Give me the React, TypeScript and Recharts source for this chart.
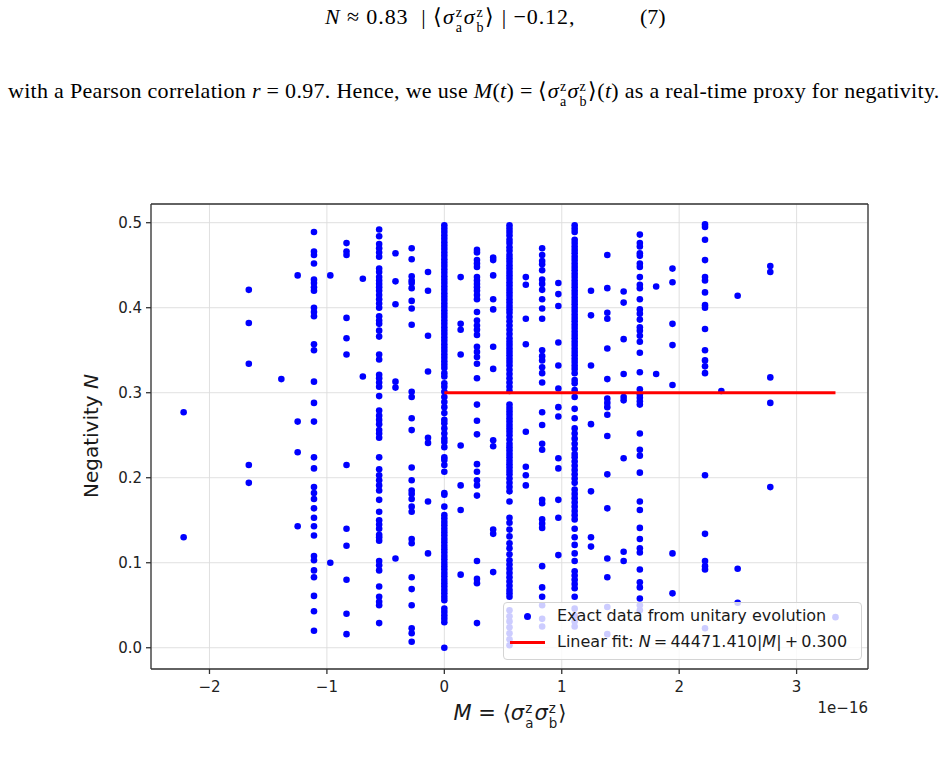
import {
  CartesianGrid,
  Legend,
  ReferenceLine,
  Scatter,
  ScatterChart,
  XAxis,
  YAxis,
} from "recharts";

// M = <sz_a sz_b>, in units of 1e-16; columns sit on multiples of ~1.388e-17
const M_COLUMNS = [
  -2.22, -1.665, -1.388, -1.249, -1.11, -0.971, -0.833, -0.694, -0.555, -0.416, -0.278, -0.139, 0,
  0.139, 0.278, 0.416, 0.555, 0.694, 0.833, 0.971, 1.11, 1.249, 1.388, 1.527, 1.665, 1.804, 1.943,
  2.22, 2.359, 2.498, 2.776, 3.331,
];

// negativity values (same order as M_COLUMNS)
const N_BY_COLUMN = [
  [0.277, 0.13],
  [0.421, 0.382, 0.334, 0.215, 0.194],
  [0.316],
  [0.438, 0.266, 0.23, 0.143],
  [0.489, 0.466, 0.462, 0.452, 0.433, 0.429, 0.424, 0.42, 0.4, 0.395, 0.39, 0.357, 0.35, 0.313, 0.288, 0.266, 0.224, 0.211, 0.189, 0.182, 0.175, 0.164, 0.153, 0.143, 0.132, 0.108, 0.103, 0.091, 0.083, 0.061, 0.043, 0.02],
  [0.438, 0.1],
  [0.476, 0.466, 0.462, 0.388, 0.364, 0.345, 0.215, 0.14, 0.12, 0.08, 0.04, 0.016],
  [0.434, 0.319],
  [0.492, 0.484, 0.475, 0.47, 0.465, 0.46, 0.446, 0.442, 0.436, 0.432, 0.428, 0.424, 0.42, 0.415, 0.41, 0.405, 0.4, 0.39, 0.385, 0.381, 0.373, 0.366, 0.345, 0.339, 0.321, 0.317, 0.312, 0.307, 0.296, 0.279, 0.273, 0.268, 0.263, 0.256, 0.252, 0.247, 0.224, 0.21, 0.203, 0.197, 0.191, 0.185, 0.174, 0.16, 0.15, 0.145, 0.14, 0.133, 0.13, 0.126, 0.102, 0.097, 0.091, 0.072, 0.06, 0.054, 0.05, 0.029],
  [0.464, 0.431, 0.404, 0.313, 0.306, 0.105],
  [0.47, 0.457, 0.437, 0.432, 0.429, 0.423, 0.408, 0.399, 0.38, 0.301, 0.295, 0.27, 0.256, 0.212, 0.197, 0.185, 0.181, 0.175, 0.166, 0.16, 0.128, 0.123, 0.083, 0.069, 0.05, 0.023, 0.017, 0.007],
  [0.442, 0.42, 0.367, 0.325, 0.247, 0.241, 0.172, 0.111],
  [0.497, 0.493, 0.489, 0.485, 0.481, 0.477, 0.473, 0.469, 0.465, 0.461, 0.457, 0.453, 0.449, 0.445, 0.441, 0.437, 0.433, 0.429, 0.425, 0.421, 0.417, 0.413, 0.409, 0.405, 0.401, 0.397, 0.393, 0.389, 0.385, 0.381, 0.377, 0.373, 0.369, 0.365, 0.361, 0.357, 0.353, 0.349, 0.345, 0.341, 0.337, 0.333, 0.329, 0.323, 0.319, 0.311, 0.307, 0.301, 0.295, 0.289, 0.283, 0.276, 0.268, 0.264, 0.258, 0.252, 0.246, 0.242, 0.236, 0.224, 0.221, 0.215, 0.207, 0.182, 0.18, 0.166, 0.156, 0.152, 0.148, 0.144, 0.14, 0.136, 0.132, 0.128, 0.124, 0.12, 0.116, 0.112, 0.108, 0.104, 0.1, 0.096, 0.092, 0.088, 0.084, 0.08, 0.076, 0.072, 0.068, 0.064, 0.06, 0.056, 0.046, 0.042, 0.038, 0.034, 0.03, 0.0],
  [0.436, 0.381, 0.374, 0.345, 0.238, 0.191, 0.162, 0.086],
  [0.468, 0.465, 0.456, 0.452, 0.448, 0.436, 0.432, 0.428, 0.424, 0.42, 0.415, 0.41, 0.395, 0.385, 0.379, 0.374, 0.368, 0.354, 0.348, 0.342, 0.334, 0.317, 0.286, 0.267, 0.251, 0.216, 0.207, 0.197, 0.191, 0.179, 0.102, 0.081, 0.076, 0.029],
  [0.459, 0.456, 0.438, 0.41, 0.398, 0.354, 0.328, 0.244, 0.237, 0.139, 0.134, 0.089],
  [0.497, 0.493, 0.489, 0.485, 0.48, 0.476, 0.471, 0.467, 0.462, 0.458, 0.454, 0.45, 0.446, 0.442, 0.438, 0.434, 0.43, 0.426, 0.422, 0.418, 0.414, 0.41, 0.406, 0.402, 0.398, 0.394, 0.389, 0.384, 0.379, 0.374, 0.369, 0.364, 0.36, 0.356, 0.352, 0.348, 0.344, 0.34, 0.336, 0.332, 0.327, 0.322, 0.317, 0.312, 0.307, 0.302, 0.286, 0.282, 0.278, 0.274, 0.27, 0.266, 0.262, 0.258, 0.254, 0.25, 0.245, 0.24, 0.236, 0.232, 0.228, 0.224, 0.22, 0.216, 0.212, 0.208, 0.204, 0.199, 0.194, 0.189, 0.184, 0.172, 0.153, 0.147, 0.139, 0.131, 0.123, 0.117, 0.11, 0.103, 0.098, 0.093, 0.088, 0.083, 0.078, 0.073, 0.068, 0.064, 0.06, 0.044, 0.037, 0.031, 0.024, 0.017, 0.01, 0.003],
  [0.436, 0.427, 0.387, 0.357, 0.254, 0.213, 0.203, 0.191],
  [0.47, 0.462, 0.455, 0.451, 0.444, 0.433, 0.428, 0.421, 0.41, 0.399, 0.387, 0.35, 0.343, 0.338, 0.33, 0.323, 0.312, 0.277, 0.262, 0.24, 0.233, 0.174, 0.17, 0.151, 0.146, 0.141, 0.096, 0.071, 0.06, 0.05, 0.034, 0.025],
  [0.429, 0.416, 0.402, 0.359, 0.332, 0.305, 0.283, 0.272, 0.223, 0.211, 0.174, 0.153, 0.109],
  [0.497, 0.493, 0.489, 0.48, 0.476, 0.472, 0.468, 0.464, 0.46, 0.456, 0.452, 0.448, 0.444, 0.44, 0.436, 0.432, 0.428, 0.424, 0.42, 0.416, 0.412, 0.408, 0.404, 0.4, 0.396, 0.392, 0.388, 0.384, 0.38, 0.376, 0.372, 0.368, 0.364, 0.36, 0.356, 0.352, 0.348, 0.344, 0.34, 0.336, 0.332, 0.328, 0.323, 0.315, 0.311, 0.303, 0.295, 0.281, 0.27, 0.258, 0.252, 0.246, 0.24, 0.234, 0.228, 0.224, 0.219, 0.214, 0.209, 0.204, 0.199, 0.194, 0.186, 0.181, 0.176, 0.171, 0.166, 0.161, 0.156, 0.151, 0.14, 0.13, 0.121, 0.111, 0.102, 0.09, 0.085, 0.08, 0.075, 0.07, 0.06, 0.046, 0.038, 0.031, 0.025],
  [0.42, 0.391, 0.332, 0.263, 0.184, 0.13, 0.119],
  [0.462, 0.423, 0.394, 0.387, 0.352, 0.316, 0.293, 0.288, 0.283, 0.274, 0.249, 0.204, 0.164, 0.105, 0.083, 0.048, 0.016],
  [0.419, 0.406, 0.363, 0.322, 0.295, 0.291, 0.223, 0.113, 0.102],
  [0.486, 0.476, 0.472, 0.464, 0.461, 0.452, 0.448, 0.436, 0.427, 0.423, 0.41, 0.398, 0.393, 0.386, 0.377, 0.373, 0.367, 0.36, 0.347, 0.324, 0.304, 0.298, 0.294, 0.29, 0.286, 0.252, 0.233, 0.226, 0.206, 0.172, 0.162, 0.141, 0.128, 0.117, 0.112, 0.092, 0.077, 0.071, 0.058, 0.05, 0.044],
  [0.425, 0.322],
  [0.446, 0.43, 0.381, 0.356, 0.309, 0.111, 0.064],
  [0.498, 0.495, 0.48, 0.456, 0.436, 0.432, 0.418, 0.403, 0.4, 0.375, 0.35, 0.338, 0.331, 0.323, 0.203, 0.134, 0.102, 0.096, 0.092, 0.023],
  [0.302],
  [0.414, 0.093, 0.053],
  [0.449, 0.442, 0.318, 0.288, 0.189],
  [0.036],
];

const FIT_SLOPE = 44471.41;
const FIT_INTERCEPT = 0.3;
const FIT_M = [0, 3.331];

const X_TICKS = [-2, -1, 0, 1, 2, 3];
const Y_TICKS = [0, 0.1, 0.2, 0.3, 0.4, 0.5];
const X_DOMAIN = [-2.498, 3.608];
const Y_DOMAIN = [-0.025, 0.522];

const points = M_COLUMNS.flatMap((m, i) => N_BY_COLUMN[i].map((n) => ({ m, n })));
const fitLine = FIT_M.map((m) => ({ m, n: FIT_SLOPE * Math.abs(m) * 1e-16 + FIT_INTERCEPT }));

const AXIS = "#333";
const SANS = "'DejaVu Sans', sans-serif";
const SERIF = "'Liberation Serif', 'Times New Roman', serif";

function SupSub({ sup, sub }: { sup: string; sub: string }) {
  return (
    <span
      style={{
        display: "inline-flex",
        flexDirection: "column",
        fontSize: "0.64em",
        lineHeight: 1.1,
        verticalAlign: "0.5em",
        marginLeft: 1,
        marginRight: 1,
      }}
    >
      <span>{sup}</span>
      <span>{sub}</span>
    </span>
  );
}

function Corr() {
  const s = { fontStyle: "italic" as const };
  return (
    <>
      ⟨<span style={s}>σ</span>
      <SupSub sup="z" sub="a" />
      <span style={s}>σ</span>
      <SupSub sup="z" sub="b" />⟩
    </>
  );
}

function LegendBox() {
  return (
    <div
      style={{
        position: "relative",
        width: 359,
        height: 58,
        boxSizing: "border-box",
        border: "1px solid #d4d4d4",
        borderRadius: 4,
        background: "rgba(255,255,255,0.8)",
        fontFamily: SANS,
        fontSize: 16,
        color: "#1a1a1a",
        whiteSpace: "nowrap",
      }}
    >
      <div
        style={{
          position: "absolute",
          left: 20,
          top: 10,
          width: 7,
          height: 7,
          borderRadius: "50%",
          background: "#0000ff",
        }}
      />
      <div style={{ position: "absolute", left: 53, top: 3, lineHeight: "20px" }}>
        Exact data from unitary evolution
      </div>
      <div
        style={{ position: "absolute", left: 6, top: 38, width: 35, height: 3, background: "#ff0000" }}
      />
      <div style={{ position: "absolute", left: 53, top: 29, lineHeight: "20px" }}>
        Linear fit: <i>N</i>&#8201;=&#8201;44471.410|<i>M</i>|&#8201;+&#8201;0.300
      </div>
    </div>
  );
}

export default function App() {
  return (
    <div style={{ position: "absolute", left: 0, top: 0, width: 947, height: 770, background: "#fff" }}>
      <div
        style={{
          position: "absolute",
          left: 325,
          top: 4,
          fontFamily: SERIF,
          fontSize: 22,
          lineHeight: "26px",
          letterSpacing: 0.9,
          whiteSpace: "nowrap",
        }}
      >
        <i>N</i> ≈ 0.83 &nbsp;| <Corr /> | −0.12,
      </div>
      <div style={{ position: "absolute", left: 640, top: 4, fontFamily: SERIF, fontSize: 22, lineHeight: "26px" }}>
        (7)
      </div>
      <div
        style={{
          position: "absolute",
          left: 8,
          top: 78,
          fontFamily: SERIF,
          fontSize: 22,
          lineHeight: "26px",
          letterSpacing: 0.3,
          whiteSpace: "nowrap",
        }}
      >
        with a Pearson correlation <i>r</i> = 0.97. Hence, we use <i>M</i>(<i>t</i>) = <Corr />(<i>t</i>) as a
        real-time proxy for negativity.
      </div>

      <ScatterChart width={947} height={770} margin={{ top: 204, right: 79, bottom: 71, left: 91 }}>
        <CartesianGrid stroke="#dcdcdc" strokeWidth={0.9} />
        <XAxis
          type="number"
          dataKey="m"
          domain={X_DOMAIN}
          ticks={X_TICKS}
          allowDataOverflow
          height={30}
          tickFormatter={(v: number) => String(v).replace("-", "\u2212")}
          tick={{ fontSize: 15, fill: "#222", fontFamily: SANS }}
          tickSize={5}
          tickMargin={7}
          stroke={AXIS}
          strokeWidth={1.3}
        />
        <YAxis
          type="number"
          dataKey="n"
          domain={Y_DOMAIN}
          ticks={Y_TICKS}
          allowDataOverflow
          width={60}
          tickFormatter={(v: number) => v.toFixed(1)}
          tick={{ fontSize: 15, fill: "#222", fontFamily: SANS }}
          tickSize={5}
          tickMargin={4}
          stroke={AXIS}
          strokeWidth={1.3}
        />
        <ReferenceLine y={Y_DOMAIN[1]} stroke={AXIS} strokeWidth={1.3} />
        <ReferenceLine x={X_DOMAIN[1]} stroke={AXIS} strokeWidth={1.3} />
        <Scatter
          data={points}
          isAnimationActive={false}
          shape={(p: any) => <circle cx={p.cx} cy={p.cy} r={3.3} fill="#0000ff" />}
        />
        <Scatter
          data={fitLine}
          isAnimationActive={false}
          line={{ stroke: "#ff0000", strokeWidth: 3 }}
          shape={() => <g />}
        />
        <Legend
          layout="horizontal"
          verticalAlign="middle"
          align="center"
          wrapperStyle={{ left: 503, top: 602, width: 359, height: 58 }}
          content={() => <LegendBox />}
        />
      </ScatterChart>

      <div
        style={{
          position: "absolute",
          left: 91,
          top: 436,
          transform: "translate(-50%, -50%) rotate(-90deg)",
          fontFamily: SANS,
          fontSize: 20,
          color: "#1a1a1a",
          whiteSpace: "nowrap",
        }}
      >
        Negativity <i>N</i>
      </div>
      <div
        style={{
          position: "absolute",
          left: 510,
          top: 716,
          transform: "translate(-50%, -50%)",
          fontFamily: SANS,
          fontSize: 21,
          color: "#1a1a1a",
          whiteSpace: "nowrap",
        }}
      >
        <i>M</i> = <Corr />
      </div>
      <div
        style={{
          position: "absolute",
          right: 947 - 868,
          top: 698,
          fontFamily: SANS,
          fontSize: 15,
          color: "#222",
          lineHeight: "20px",
        }}
      >
        1e−16
      </div>
    </div>
  );
}
